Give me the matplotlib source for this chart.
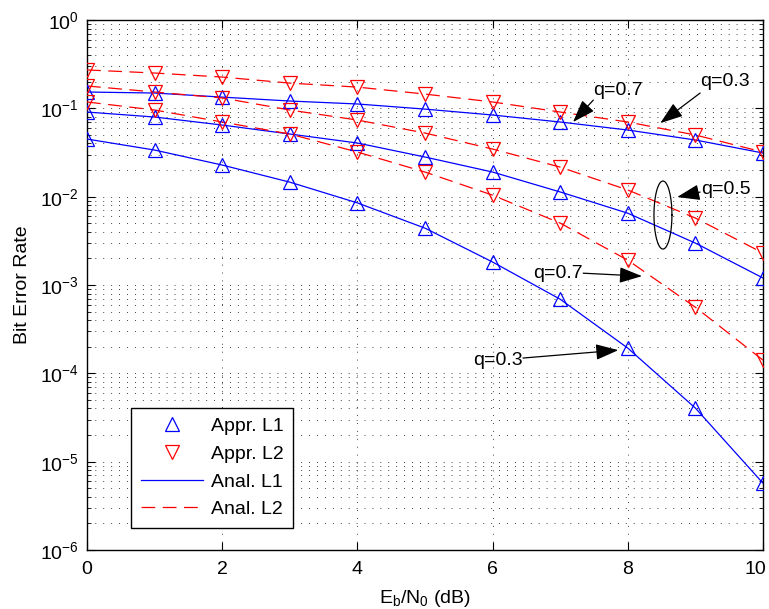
import numpy as np
import matplotlib
matplotlib.use("Agg")
import matplotlib.pyplot as plt
import matplotlib.transforms as mtransforms

plt.rcParams['font.family'] = ['Liberation Sans', 'DejaVu Sans']
plt.rcParams['mathtext.fontset'] = 'custom'
plt.rcParams['mathtext.rm'] = 'Liberation Sans'
plt.rcParams['mathtext.it'] = 'Liberation Sans'
plt.rcParams['mathtext.bf'] = 'Liberation Sans:bold'

# ---- data ----
ebn0 = [0, 1, 2, 3, 4, 5, 6, 7, 8, 9, 10]

# L1 (blue): q=0.3, 0.5, 0.7
l1_q03 = [0.0449, 0.0337, 0.0228, 0.0146, 0.0085, 0.0044, 0.00182, 6.9e-4, 1.93e-4, 4.04e-5, 5.7e-6]
l1_q05 = [0.0908, 0.0797, 0.0647, 0.0512, 0.0405, 0.0281, 0.019, 0.0113, 0.0065, 0.00298, 0.0012]
l1_q07 = [0.153, 0.149, 0.134, 0.121, 0.112, 0.098, 0.084, 0.070, 0.0568, 0.0438, 0.0312]

# L2 (red): q=0.3, 0.5, 0.7
l2_q03 = [0.272, 0.251, 0.226, 0.193, 0.174, 0.145, 0.118, 0.0908, 0.070, 0.0499, 0.032]
l2_q05 = [0.179, 0.153, 0.131, 0.0957, 0.0737, 0.0525, 0.0346, 0.0216, 0.0119, 0.00573, 0.0023]
l2_q07 = [0.118, 0.0957, 0.070, 0.0512, 0.032, 0.019, 0.0104, 0.00502, 0.00191, 5.6e-4, 1.41e-4]

legend_labels = ['Appr. L1', 'Appr. L2', 'Anal. L1', 'Anal. L2']

# ---- figure ----
fig = plt.figure(figsize=(7.69, 6.09), dpi=100)
ax = fig.add_axes([87/769, 1-550/609, 676/769, 530/609])

blue = (0, 0, 1)
red = (1, 0, 0)
ms = 9.5
mew = 0.9
dash = (0, (11, 6))

# analytic lines
for i, s in enumerate([l1_q03, l1_q05, l1_q07]):
    ax.plot(ebn0, s, '-', color=blue, lw=0.9, label=legend_labels[2] if i == 0 else None, zorder=3)
for i, s in enumerate([l2_q03, l2_q05, l2_q07]):
    ax.plot(ebn0, s, linestyle=dash, color=red, lw=0.9, label=legend_labels[3] if i == 0 else None, zorder=3)
# approximation markers
for i, s in enumerate([l1_q03, l1_q05, l1_q07]):
    ax.plot(ebn0, s, '^', color=blue, ms=ms, mfc='none', mew=mew, ls='none',
            label=legend_labels[0] if i == 0 else None, zorder=4)
for i, s in enumerate([l2_q03, l2_q05, l2_q07]):
    ax.plot(ebn0, s, 'v', color=red, ms=ms, mfc='none', mew=mew, ls='none',
            label=legend_labels[1] if i == 0 else None, zorder=4)

ax.set_yscale('log')
ax.set_xlim(0, 10)
ax.set_ylim(1e-6, 1)
ax.set_xticks([0, 2, 4, 6, 8, 10])
ax.set_yticks([1e-6, 1e-5, 1e-4, 1e-3, 1e-2, 1e-1, 1])

grid_ls = (0, (1, 8.5))
ax.grid(True, which='major', axis='x', color='black', lw=0.6, linestyle=grid_ls)
ax.grid(True, which='both', axis='y', color='black', lw=0.6, linestyle=grid_ls)
ax.set_axisbelow(True)

ax.tick_params(which='both', direction='in', top=True, right=True, labelsize=14)
ax.tick_params(which='major', length=6, width=0.8)
ax.tick_params(which='minor', length=3, width=0.6)
ax.tick_params(axis='x', pad=8)
ax.tick_params(axis='y', pad=6)
for sp in ax.spines.values():
    sp.set_linewidth(1.0)

ax.set_xlabel(r'E$_\mathrm{b}$/N$_\mathrm{0}$ (dB)', fontsize=14, labelpad=7)
ax.set_ylabel('Bit Error Rate', fontsize=14, labelpad=6)

# shift the last x tick label inside the figure (as in the reference)
fig.canvas.draw()
last = ax.get_xticklabels()[-1]
last.set_horizontalalignment('right')
last.set_transform(last.get_transform() + mtransforms.ScaledTranslation(3/100, 0, fig.dpi_scale_trans))

# reorder legend: Appr L1, Appr L2, Anal L1, Anal L2
handles, labels = ax.get_legend_handles_labels()
order = [labels.index(l) for l in legend_labels]
leg = ax.legend([handles[i] for i in order], [labels[i] for i in order],
                loc='lower left', bbox_to_anchor=(0.065, 0.0415), borderaxespad=0,
                fontsize=14, frameon=True, fancybox=False, edgecolor='black',
                framealpha=1, handlelength=3.2, labelspacing=0.52, borderpad=0.5,
                handletextpad=0.4)
leg.get_frame().set_linewidth(1.0)

# ---- annotations ----
ap = dict(arrowstyle='-|>,head_length=1.0,head_width=0.35', color='black', lw=0.9,
          shrinkA=0, shrinkB=0, mutation_scale=14)
tfs = 14
# upper q=0.7 (L1)
ax.annotate('', xy=(7.19, 0.070), xytext=(7.49, 0.124), arrowprops=ap)
ax.text(7.85, 0.161, 'q=0.7', fontsize=tfs, ha='center', va='center')
# upper q=0.3 (L2)
ax.annotate('', xy=(8.48, 0.068), xytext=(9.07, 0.149), arrowprops=ap)
ax.text(9.44, 0.199, 'q=0.3', fontsize=tfs, ha='center', va='center')
# q=0.5 with ellipse
th = np.linspace(0, 2*np.pi, 200)
cx, cly, a, b = 8.52, -2.208, 0.133, 0.385
ax.plot(cx + a*np.cos(th), 10**(cly + b*np.sin(th)), color='black', lw=0.9, zorder=5)
ax.annotate('', xy=(8.73, 0.0099), xytext=(9.07, 0.01127), arrowprops=ap)
ax.text(9.08, 0.0119, 'q=0.5', fontsize=tfs, ha='left', va='center')
# lower q=0.7 (L2)
ax.annotate('', xy=(8.21, 0.00126), xytext=(7.34, 0.00136), arrowprops=ap)
ax.text(7.33, 0.00136, 'q=0.7', fontsize=tfs, ha='right', va='center')
# lower q=0.3 (L1)
ax.annotate('', xy=(7.86, 1.83e-4), xytext=(6.45, 1.49e-4), arrowprops=ap)
ax.text(6.45, 1.41e-4, 'q=0.3', fontsize=tfs, ha='right', va='center')

fig.savefig('out.png', dpi=100)
